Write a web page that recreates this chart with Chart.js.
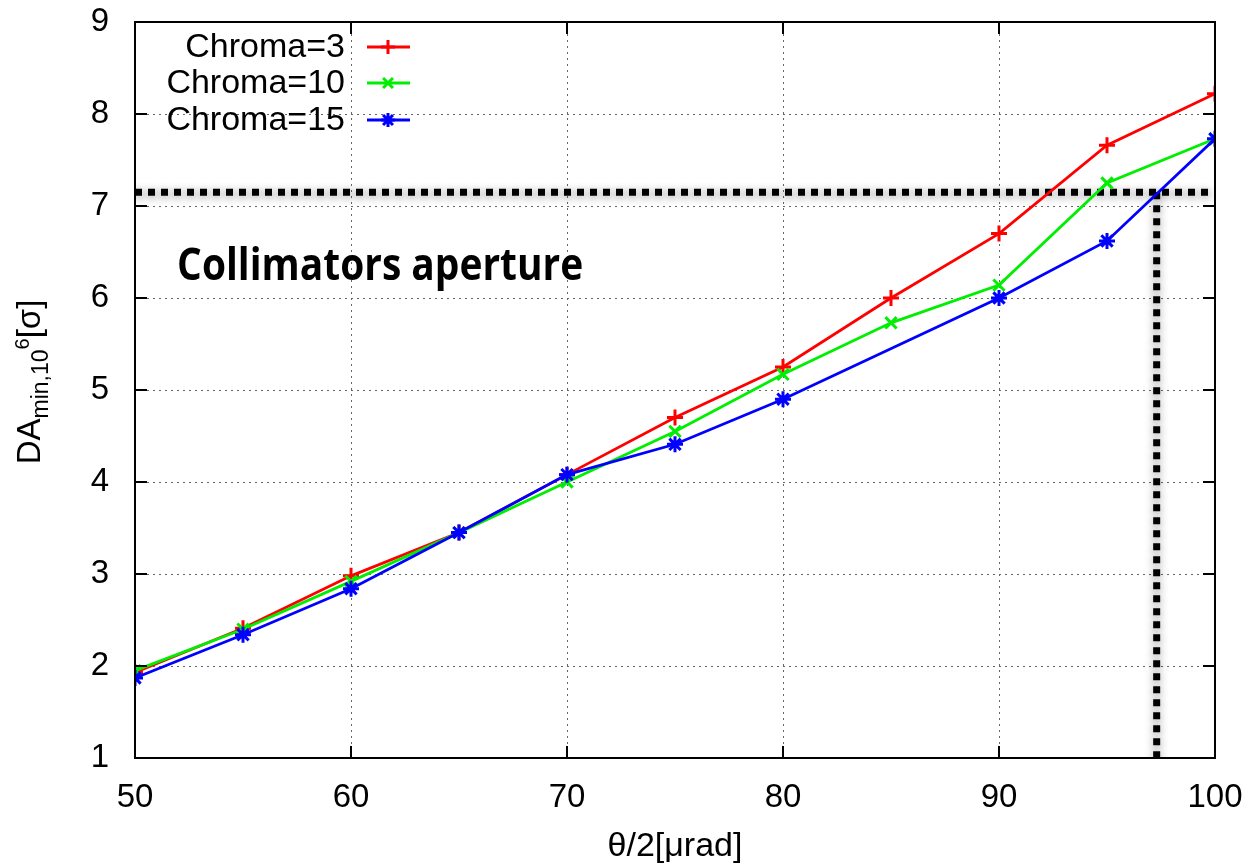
<!DOCTYPE html>
<html>
<head>
<meta charset="utf-8">
<script src="https://cdn.jsdelivr.net/npm/chart.js@4.4.0/dist/chart.umd.min.js"></script>
<style>
  html, body { margin: 0; background: #fff; }
  #wrap { width: 1249px; height: 865px; }
</style>
</head>
<body>
<div id="wrap"><canvas id="chart" width="1249" height="865"></canvas></div>
<script>
// theta/2 in microrad
const thetaHalf = [50, 55, 60, 65, 70, 75, 80, 85, 90, 95, 100];
const chroma3 = [1.93, 2.41, 2.98, 3.45, 4.08, 4.70, 5.25, 6.00, 6.70, 7.66, 8.22];
const chroma10 = [1.95, 2.40, 2.92, 3.45, 4.00, 4.55, 5.17, 5.73, 6.14, 7.25, 7.73];
const chroma15 = [1.87, 2.34, 2.84, 3.45, 4.08, 4.41, 4.90, null, 6.00, 6.62, 7.73];

// collimator aperture level and where chroma=15 crosses it
const apertureLevel = 7.15;
const apertureAngle = 97.3;

const xRange = [50, 100];
const yRange = [1, 9];

Chart.defaults.font.family = '"Liberation Sans", Arial, sans-serif';
Chart.defaults.color = "#000";

function toPoints(ys) {
  return thetaHalf.map((x, i) => ({ x: x, y: ys[i] }));
}

function series(label, ys, color, style, order) {
  return {
    label: label,
    data: toPoints(ys),
    borderColor: color,
    backgroundColor: color,
    borderWidth: 2.8,
    pointStyle: style,
    pointRadius: 8,
    pointBorderWidth: 3,
    spanGaps: true,
    order: order,
  };
}

// inward ticks + black frame, gnuplot style
const framePlugin = {
  id: "frame",
  afterDatasetsDraw(chart) {
    const { ctx, chartArea: a, scales } = chart;
    const len = 12;
    ctx.save();
    ctx.strokeStyle = "#000";
    ctx.lineWidth = 2;
    scales.y.ticks.forEach((t) => {
      const py = scales.y.getPixelForValue(t.value);
      ctx.beginPath();
      ctx.moveTo(a.left, py); ctx.lineTo(a.left + len, py);
      ctx.moveTo(a.right, py); ctx.lineTo(a.right - len, py);
      ctx.stroke();
    });
    scales.x.ticks.forEach((t) => {
      const px = scales.x.getPixelForValue(t.value);
      ctx.beginPath();
      ctx.moveTo(px, a.bottom); ctx.lineTo(px, a.bottom - len);
      ctx.moveTo(px, a.top); ctx.lineTo(px, a.top + len);
      ctx.stroke();
    });
    ctx.strokeRect(a.left, a.top, a.right - a.left, a.bottom - a.top);
    ctx.restore();
  },
};

// soft shadow under the aperture line
const shadowPlugin = {
  id: "shadow",
  beforeDatasetDraw(chart, args) {
    if (!args.meta._dataset.shadow) return;
    chart.ctx.save();
    chart.ctx.shadowColor = "rgba(0,0,0,0.45)";
    chart.ctx.shadowBlur = 8;
    chart.ctx.shadowOffsetY = 2;
  },
  afterDatasetDraw(chart, args) {
    if (!args.meta._dataset.shadow) return;
    chart.ctx.restore();
  },
};

// legend inside the plot, text right aligned then a sample line
const legendPlugin = {
  id: "insideLegend",
  afterDraw(chart) {
    const { ctx, chartArea: a } = chart;
    const rows = [25, 61, 98];
    ctx.save();
    ctx.font = '34px "Liberation Sans", Arial, sans-serif';
    ctx.textAlign = "right";
    ctx.textBaseline = "middle";
    chart.data.datasets.filter((d) => !d.shadow).forEach((d, i) => {
      const y = a.top + rows[i];
      ctx.fillStyle = "#000";
      ctx.fillText(d.label, a.left + 210, y + 1);
      ctx.strokeStyle = d.borderColor;
      ctx.lineWidth = 2.8;
      ctx.beginPath();
      ctx.moveTo(a.left + 232, y);
      ctx.lineTo(a.left + 275, y);
      ctx.stroke();
      ctx.fillStyle = d.borderColor;
      ctx.lineWidth = 3;
      Chart.helpers.drawPoint(ctx, {
        pointStyle: d.pointStyle, radius: 7, rotation: 0, borderWidth: 3,
      }, a.left + 253, y);
    });
    ctx.restore();
  },
};

// annotation and axis titles (with sub/superscripts)
const textPlugin = {
  id: "texts",
  afterDraw(chart) {
    const { ctx, chartArea: a, scales } = chart;
    ctx.save();
    ctx.fillStyle = "#000";

    // "Collimators aperture"
    const label = "Collimators aperture";
    ctx.font = 'bold 44px "Open Sans", sans-serif';
    const w = ctx.measureText(label).width;
    const tx = scales.x.getPixelForValue(51.95);
    const ty = scales.y.getPixelForValue(6.2);
    ctx.translate(tx, ty);
    ctx.scale(406 / w, 1);
    ctx.textAlign = "left";
    ctx.textBaseline = "alphabetic";
    ctx.fillText(label, 0, 0);
    ctx.setTransform(1, 0, 0, 1, 0, 0);

    // x title
    ctx.font = '34px "Liberation Sans", Arial, sans-serif';
    ctx.textAlign = "center";
    ctx.fillText("θ/2[μrad]", (a.left + a.right) / 2, 856);

    // y title, rotated
    const parts = [
      { t: "DA", size: 33, dy: 0 },
      { t: "min,10", size: 23, dy: 8 },
      { t: "6", size: 20, dy: -11 },
      { t: "[σ]", size: 33, dy: 0 },
    ];
    let total = 0;
    parts.forEach((p) => {
      ctx.font = p.size + 'px "Liberation Sans", Arial, sans-serif';
      p.w = ctx.measureText(p.t).width;
      total += p.w;
    });
    ctx.translate(40, (a.top + a.bottom) / 2 - 8);
    ctx.rotate(-Math.PI / 2);
    ctx.textAlign = "left";
    let x = -total / 2;
    parts.forEach((p) => {
      ctx.font = p.size + 'px "Liberation Sans", Arial, sans-serif';
      ctx.fillText(p.t, x, p.dy);
      x += p.w;
    });
    ctx.restore();
  },
};

new Chart(document.getElementById("chart"), {
  type: "line",
  data: {
    datasets: [
      series("Chroma=3", chroma3, "#ff0000", "cross", 3),
      series("Chroma=10", chroma10, "#00ee00", "crossRot", 2),
      series("Chroma=15", chroma15, "#0000ff", "star", 1),
      {
        label: "aperture",
        data: [{ x: xRange[0], y: apertureLevel }, { x: xRange[1], y: apertureLevel }],
        borderColor: "#000",
        borderWidth: 7,
        borderDash: [7, 6],
        borderCapStyle: "butt",
        pointRadius: 0,
        shadow: true,
        order: 5,
      },
      {
        label: "aperture",
        data: [{ x: apertureAngle, y: apertureLevel }, { x: apertureAngle, y: yRange[0] }],
        borderColor: "#000",
        borderWidth: 7,
        borderDash: [7, 6],
        borderCapStyle: "butt",
        pointRadius: 0,
        shadow: true,
        order: 5,
      },
    ],
  },
  options: {
    responsive: false,
    animation: false,
    events: [],
    layout: { padding: { top: 22, right: 34, left: 0, bottom: 0 } },
    plugins: {
      legend: { display: false },
      tooltip: { enabled: false },
    },
    scales: {
      x: {
        type: "linear",
        min: xRange[0],
        max: xRange[1],
        ticks: { stepSize: 10, padding: 20, font: { size: 33 }, color: "#000" },
        grid: { color: "#666", lineWidth: 1, drawTicks: false },
        border: { display: false, dash: [2, 4] },
        afterFit(scale) {
          scale.height = 107;
          scale.paddingLeft = 0;
          scale.paddingRight = 0;
        },
      },
      y: {
        type: "linear",
        min: yRange[0],
        max: yRange[1],
        ticks: { stepSize: 1, padding: 26, font: { size: 33 }, color: "#000" },
        grid: { color: "#666", lineWidth: 1, drawTicks: false },
        border: { display: false, dash: [2, 4] },
        afterFit(scale) {
          scale.width = 135;
          scale.paddingTop = 0;
          scale.paddingBottom = 0;
        },
      },
    },
  },
  plugins: [shadowPlugin, framePlugin, legendPlugin, textPlugin],
});
</script>
</body>
</html>
